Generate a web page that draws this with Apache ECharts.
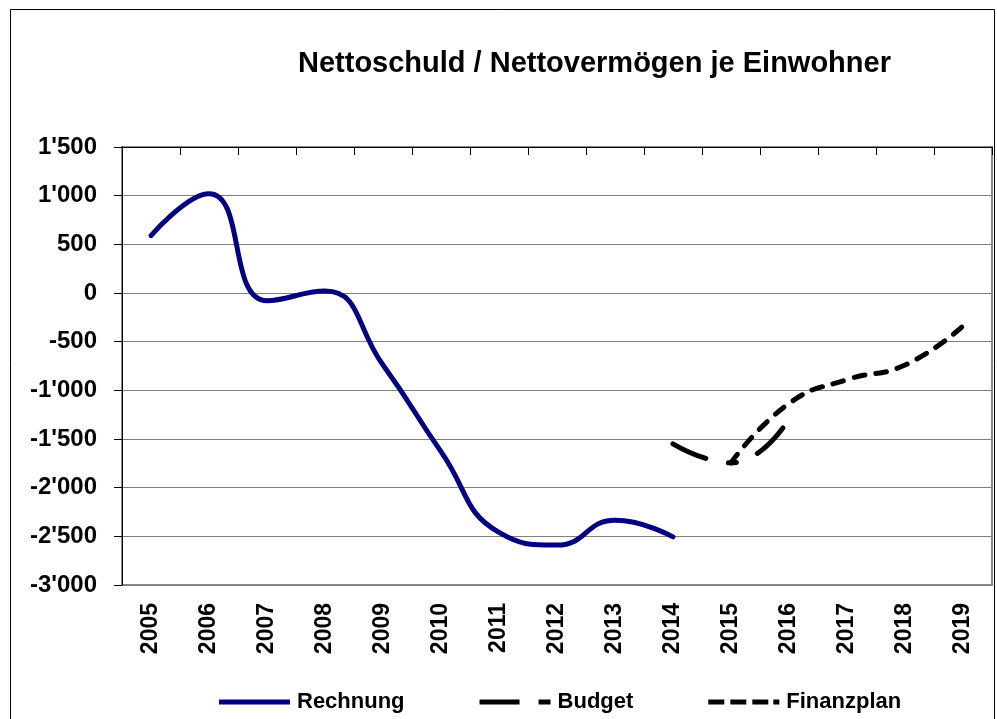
<!DOCTYPE html>
<html>
<head>
<meta charset="utf-8">
<script src="https://cdn.jsdelivr.net/npm/echarts@6/dist/echarts.min.js"></script>
<style>
html, body { margin: 0; padding: 0; background: #fff; }
#chart { width: 997px; height: 719px; }
</style>
</head>
<body>
<div id="chart"></div>
<script>
// Jahre und Werte (je Einwohner)
const years = ['2005','2006','2007','2008','2009','2010','2011','2012','2013','2014','2015','2016','2017','2018','2019'];
const rechnung = [590, 1020, -80, 20, -740, -1630, -2460, -2590, -2335, -2505, null, null, null, null, null];
const budget = [null, null, null, null, null, null, null, null, null, -1550, -1745, -1295, null, null, null];
const finanzplan = [null, null, null, null, null, null, null, null, null, null, -1745, -1135, -890, -740, -340];

const font = 'Liberation Sans, Arial, sans-serif';

const chart = echarts.init(document.getElementById('chart'));

// legend icons drawn as little bars (solid / dash-dot / dashed)
const iconSolid = 'path://M0,0H71V5H0Z';
const iconBudget = 'path://M0,0H40V5H0Z M59,0H71V5H59Z';
const iconPlan = 'path://M0,0H16V5H0Z M22,0H38V5H22Z M44,0H60V5H44Z M65,0H71V5H65Z';

const option = {
    animation: false,
    title: {
        text: 'Nettoschuld / Nettovermögen je Einwohner',
        left: 293,
        top: 44,
        textStyle: { fontFamily: font, fontSize: 29, fontWeight: 'bold', color: '#000' }
    },
    graphic: [{
        type: 'rect',
        shape: { x: 10.5, y: 9.5, width: 984, height: 730 },
        style: { fill: 'none', stroke: '#000', lineWidth: 1 },
        silent: true
    }],
    grid: {
        left: 122, right: 5, top: 147, bottom: 134,
        show: true, borderColor: '#888', borderWidth: 2
    },
    legend: {
        left: 214,
        top: 686,
        itemWidth: 71,
        itemHeight: 5,
        itemGap: 75,
        textStyle: { fontFamily: font, fontSize: 22, fontWeight: 'bold', color: '#000', padding: [0, 0, 0, 2] },
        data: [
            { name: 'Rechnung', icon: iconSolid, itemStyle: { color: '#000080' } },
            { name: 'Budget', icon: iconBudget, itemStyle: { color: '#000' } },
            { name: 'Finanzplan', icon: iconPlan, itemStyle: { color: '#000' } }
        ]
    },
    xAxis: [
        {
            type: 'category',
            data: years,
            boundaryGap: true,
            axisLine: { show: false },
            axisTick: { show: false },
            axisLabel: {
                rotate: 90, margin: 18, interval: 0,
                fontFamily: font, fontSize: 23, fontWeight: 'bold', color: '#000'
            }
        },
        {
            type: 'category',
            data: years,
            position: 'top',
            boundaryGap: true,
            axisLine: { show: true, onZero: true, lineStyle: { color: '#000', width: 1 } },
            axisTick: { show: true, inside: true, length: 8, interval: 0, lineStyle: { color: '#000' } },
            axisLabel: { show: false }
        }
    ],
    yAxis: {
        type: 'value',
        min: -3000,
        max: 1500,
        interval: 500,
        axisLine: { show: true, lineStyle: { color: '#000', width: 1 } },
        axisTick: { show: true, length: 8, lineStyle: { color: '#000' } },
        splitLine: { lineStyle: { color: '#808080', width: 1 } },
        axisLabel: {
            margin: 25,
            fontFamily: font, fontSize: 24, fontWeight: 'bold', color: '#000',
            formatter: function (v) {
                return String(v).replace(/\B(?=(\d{3})+(?!\d))/g, "'");
            }
        }
    },
    series: [
        {
            name: 'Rechnung',
            type: 'line',
            data: rechnung,
            smooth: 0.5,
            showSymbol: false,
            symbol: 'none',
            lineStyle: { color: '#000080', width: 5, cap: 'round' },
            itemStyle: { color: '#000080' }
        },
        {
            name: 'Budget',
            type: 'line',
            data: budget,
            smooth: 0.5,
            showSymbol: false,
            symbol: 'none',
            lineStyle: { color: '#000', width: 5, type: [36, 23, 8, 23], cap: 'round' },
            itemStyle: { color: '#000' }
        },
        {
            name: 'Finanzplan',
            type: 'line',
            data: finanzplan,
            smooth: 0.5,
            showSymbol: false,
            symbol: 'none',
            lineStyle: { color: '#000', width: 5, type: [11, 11], cap: 'round' },
            itemStyle: { color: '#000' }
        }
    ]
};

chart.setOption(option);
</script>
</body>
</html>
